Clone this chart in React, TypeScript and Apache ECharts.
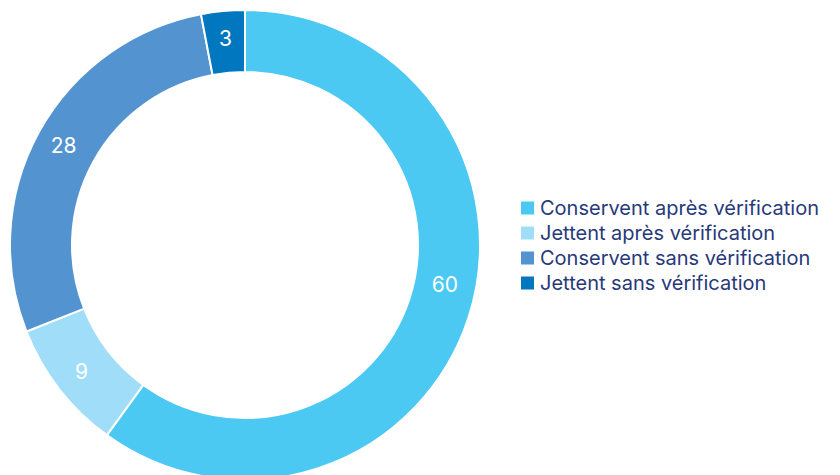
import React, { useEffect, useRef } from "react";
import * as echarts from "echarts";

const categories = [
  "Conservent après vérification",
  "Jettent après vérification",
  "Conservent sans vérification",
  "Jettent sans vérification",
];
const values = [60, 9, 28, 3];
const colors = ["#4BC9F3", "#A0DDF8", "#5393CF", "#0077BF"];

export default function App() {
  const ref = useRef<HTMLDivElement>(null);
  useEffect(() => {
    document.body.style.margin = "0";
    const chart = echarts.init(ref.current!, null, { renderer: "svg" });
    chart.setOption({
      animation: false,
      color: colors,
      legend: {
        orient: "vertical",
        left: 519,
        top: 198,
        padding: 0,
        itemWidth: 15,
        itemHeight: 15,
        itemGap: 5,
        itemTextGap: 5,
        icon: "rect",
        selectedMode: false,
        textStyle: { fontSize: 20, lineHeight: 20, color: "#27397A", fontFamily: "Inter" },
        data: categories,
      },
      series: [
        {
          type: "pie",
          center: [245, 245],
          radius: [173, 235],
          startAngle: 90,
          clockwise: true,
          itemStyle: { borderColor: "#fff", borderWidth: 2 },
          label: {
            show: true,
            position: "inside",
            formatter: "{c}",
            color: "#fff",
            fontSize: 21,
            fontFamily: "Inter",
          },
          labelLayout: (p: any) => (p.dataIndex === 0 ? { dx: 3, dy: -24 } : {}),
          labelLine: { show: false },
          emphasis: { disabled: true },
          data: categories.map((n, i) => ({ name: n, value: values[i] })),
        },
      ],
    });
    return () => chart.dispose();
  }, []);
  return <div ref={ref} style={{ width: 840, height: 475 }} />;
}
